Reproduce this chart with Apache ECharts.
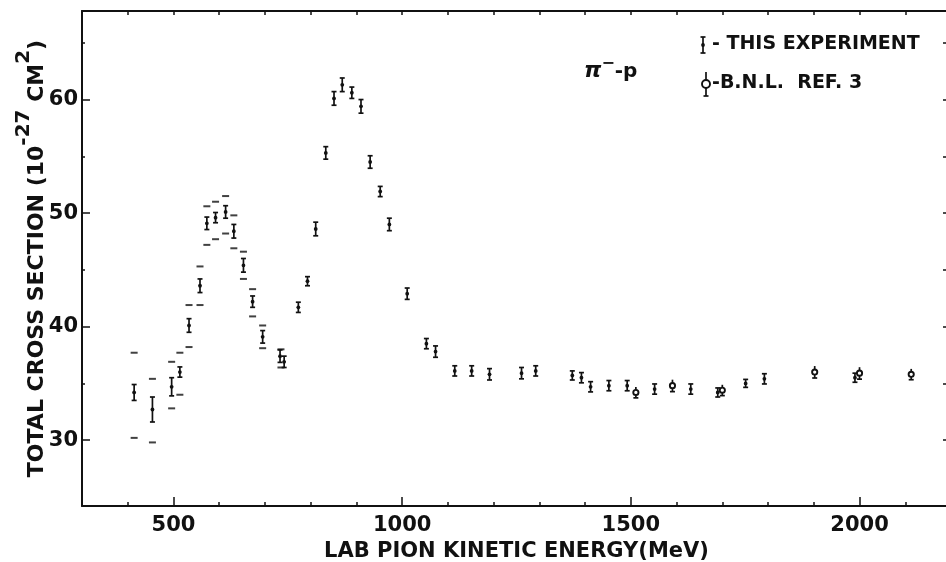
<!DOCTYPE html>
<html>
<head>
<meta charset="utf-8">
<title>pi- p total cross section</title>
<script src="https://cdn.jsdelivr.net/npm/echarts@6/dist/echarts.min.js"></script>
<style>
  html, body { margin: 0; padding: 0; background: #fff; }
  #main { width: 946px; height: 562px; }
</style>
</head>
<body>
<div id="main"></div>
<script>
// this experiment: energy (MeV), cross section (mb), half error
var expEnergy = [414, 454, 496, 514, 534, 558, 573, 592, 614, 632, 653, 673, 695, 733, 742,
  773, 793, 811, 833, 851, 869, 890, 910, 930, 952, 972, 1011, 1053, 1073, 1115, 1152, 1191,
  1261, 1292, 1372, 1392, 1412, 1452, 1492, 1552, 1631, 1690, 1751, 1792, 1990];
var expSigma = [34.2, 32.7, 34.7, 36.0, 40.1, 43.6, 49.1, 49.6, 50.1, 48.4, 45.4, 42.2, 39.1, 37.4, 36.9,
  41.7, 44.0, 48.6, 55.3, 60.1, 61.3, 60.6, 59.4, 54.5, 51.9, 49.0, 42.9, 38.5, 37.8, 36.1, 36.1, 35.8,
  35.9, 36.1, 35.7, 35.5, 34.7, 34.8, 34.8, 34.5, 34.5, 34.2, 35.0, 35.4, 35.5];
var expErr = [0.7, 1.1, 0.8, 0.45, 0.6, 0.6, 0.55, 0.45, 0.55, 0.6, 0.6, 0.5, 0.55, 0.55, 0.5,
  0.45, 0.4, 0.6, 0.55, 0.6, 0.6, 0.5, 0.6, 0.55, 0.45, 0.55, 0.5, 0.45, 0.5, 0.45, 0.45, 0.5,
  0.5, 0.45, 0.4, 0.45, 0.45, 0.45, 0.45, 0.45, 0.45, 0.4, 0.35, 0.45, 0.4];

// B.N.L. ref 3
var bnlEnergy = [1511, 1591, 1700, 1902, 2000, 2113];
var bnlSigma = [34.2, 34.8, 34.4, 36.0, 35.9, 35.8];
var bnlErr = [0.3, 0.35, 0.3, 0.35, 0.35, 0.3];

// dashes above / below the low energy points
var dashEnergy = [414, 454, 496, 514, 534, 558, 573, 592, 614, 632, 653, 673, 695, 735];
var dashHigh = [37.7, 35.4, 36.9, 37.7, 41.9, 45.3, 50.6, 51.0, 51.5, 49.8, 46.6, 43.3, 40.1, 38.0];
var dashLow = [30.2, 29.8, 32.8, 34.0, 38.2, 41.9, 47.2, 47.7, 48.2, 46.9, 44.2, 40.9, 38.1, 36.4];

var xMajorTicks = [500, 1000, 1500, 2000];
var xMinorTicks = [400, 500, 600, 700, 800, 900, 1000, 1100, 1200, 1300, 1400, 1500, 1600, 1700, 1800, 1900, 2000, 2100];
var yMajorTicks = [30, 40, 50, 60];
var yMinorTicks = [30, 35, 40, 45, 50, 55, 60, 65];

var ink = '#111';
var font = 'DejaVu Sans, sans-serif';

var expData = [], bnlData = [], hiData = [], loData = [];
for (var i = 0; i < expEnergy.length; i++) expData.push([expEnergy[i], expSigma[i], expErr[i]]);
for (var i = 0; i < bnlEnergy.length; i++) bnlData.push([bnlEnergy[i], bnlSigma[i], bnlErr[i]]);
for (var i = 0; i < dashEnergy.length; i++) {
  hiData.push([dashEnergy[i], dashHigh[i]]);
  loData.push([dashEnergy[i], dashLow[i]]);
}

function renderExp(params, api) {
  var x = api.value(0), y = api.value(1), e = api.value(2);
  var t = api.coord([x, y + e]), b = api.coord([x, y - e]), m = api.coord([x, y]);
  var s = { stroke: ink, lineWidth: 1.7 };
  return { type: 'group', children: [
    { type: 'line', shape: { x1: t[0], y1: t[1], x2: b[0], y2: b[1] }, style: s },
    { type: 'line', shape: { x1: t[0] - 2.5, y1: t[1], x2: t[0] + 2.5, y2: t[1] }, style: s },
    { type: 'line', shape: { x1: b[0] - 2.5, y1: b[1], x2: b[0] + 2.5, y2: b[1] }, style: s },
    { type: 'circle', shape: { cx: m[0], cy: m[1], r: 1.9 }, style: { fill: ink } }
  ]};
}

function renderBnl(params, api) {
  var x = api.value(0), y = api.value(1), e = api.value(2);
  var t = api.coord([x, y + e]), b = api.coord([x, y - e]), m = api.coord([x, y]);
  var s = { stroke: ink, lineWidth: 1.7 };
  return { type: 'group', children: [
    { type: 'line', shape: { x1: t[0], y1: t[1] - 2, x2: b[0], y2: b[1] + 2 }, style: s },
    { type: 'line', shape: { x1: b[0] - 2.5, y1: b[1] + 2, x2: b[0] + 2.5, y2: b[1] + 2 }, style: s },
    { type: 'circle', shape: { cx: m[0], cy: m[1], r: 2.6 }, style: { fill: '#fff', stroke: ink, lineWidth: 1.9 } }
  ]};
}

function plainNum(v) { return String(v); }

var myChart = echarts.init(document.getElementById('main'));

var option = {
  animation: false,
  backgroundColor: '#fff',
  grid: { left: 82, right: -5, top: 11, bottom: 56, outerBoundsMode: 'none' },
  xAxis: [
    {
      type: 'value', position: 'bottom', min: 300, max: 2200,
      axisLine: { lineStyle: { color: ink, width: 2 } },
      axisTick: { inside: true, length: 4, customValues: xMinorTicks, lineStyle: { color: ink, width: 1.5 } },
      axisLabel: { customValues: xMajorTicks, formatter: plainNum, color: ink, fontFamily: font, fontWeight: 'bold', fontSize: 21, margin: 9 },
      splitLine: { show: false },
      name: 'LAB PION KINETIC ENERGY(MeV)', nameLocation: 'middle', nameGap: 35,
      nameTextStyle: { color: ink, fontFamily: font, fontWeight: 'bold', fontSize: 21 }
    },
    {
      type: 'value', position: 'bottom', min: 300, max: 2200,
      axisLine: { show: false },
      axisTick: { inside: true, length: 9, customValues: xMajorTicks, lineStyle: { color: ink, width: 1.5 } },
      axisLabel: { show: false }, splitLine: { show: false }
    },
    {
      type: 'value', position: 'top', min: 300, max: 2200,
      axisLine: { lineStyle: { color: ink, width: 2 } },
      axisTick: { inside: true, length: 4, customValues: xMinorTicks, lineStyle: { color: ink, width: 1.5 } },
      axisLabel: { show: false }, splitLine: { show: false }
    }
  ],
  yAxis: [
    {
      type: 'value', position: 'left', min: 24.2, max: 67.8,
      axisLine: { lineStyle: { color: ink, width: 2 } },
      axisTick: { inside: true, length: 3, customValues: yMinorTicks, lineStyle: { color: ink, width: 1.5 } },
      axisLabel: { customValues: yMajorTicks, formatter: plainNum, color: ink, fontFamily: font, fontWeight: 'bold', fontSize: 21, margin: 4 },
      splitLine: { show: false },
      name: '{t|TOTAL CROSS SECTION (10}{s|-27}{t| CM}{s|2}{t|)}',
      nameLocation: 'middle', nameGap: 34, nameRotate: 90, nameMoveOverlap: false,
      nameTextStyle: {
        color: ink,
        rich: {
          t: { fontFamily: font, fontWeight: 'bold', fontSize: 22, color: ink, lineHeight: 34, verticalAlign: 'bottom' },
          s: { fontFamily: font, fontWeight: 'bold', fontSize: 20, color: ink, lineHeight: 34, verticalAlign: 'top' }
        }
      }
    },
    {
      type: 'value', position: 'left', min: 24.2, max: 67.8,
      axisLine: { show: false },
      axisTick: { inside: true, length: 8, customValues: yMajorTicks, lineStyle: { color: ink, width: 1.5 } },
      axisLabel: { show: false }, splitLine: { show: false }
    },
    {
      type: 'value', position: 'right', min: 24.2, max: 67.8,
      axisLine: { lineStyle: { color: ink, width: 2 } },
      axisTick: { inside: true, length: 8, customValues: yMinorTicks, lineStyle: { color: ink, width: 1.5 } },
      axisLabel: { show: false }, splitLine: { show: false }
    }
  ],
  series: [
    {
      name: 'dash high', type: 'scatter', data: hiData, symbol: 'rect', symbolSize: [7, 2],
      itemStyle: { color: ink }, silent: true
    },
    {
      name: 'dash low', type: 'scatter', data: loData, symbol: 'rect', symbolSize: [7, 2],
      itemStyle: { color: ink }, silent: true
    },
    { name: 'THIS EXPERIMENT', type: 'custom', renderItem: renderExp, data: expData, z: 3 },
    { name: 'B.N.L. REF. 3', type: 'custom', renderItem: renderBnl, data: bnlData, z: 4 }
  ],
  graphic: [
    {
      type: 'text', left: 584, top: 56,
      style: {
        text: '{p|π}{m|−}{q|-p}',
        rich: {
          p: { fontFamily: font, fontWeight: 'bold', fontStyle: 'italic', fontSize: 22, fill: ink, verticalAlign: 'bottom', lineHeight: 26 },
          m: { fontFamily: font, fontWeight: 'bold', fontSize: 16, fill: ink, verticalAlign: 'top', lineHeight: 26 },
          q: { fontFamily: font, fontWeight: 'bold', fontSize: 20, fill: ink, verticalAlign: 'bottom', lineHeight: 26 }
        }
      }
    },
    // legend: this experiment
    { type: 'line', shape: { x1: 703, y1: 37, x2: 703, y2: 53 }, style: { stroke: ink, lineWidth: 1.7 } },
    { type: 'line', shape: { x1: 700.5, y1: 37, x2: 705.5, y2: 37 }, style: { stroke: ink, lineWidth: 1.7 } },
    { type: 'line', shape: { x1: 700.5, y1: 53, x2: 705.5, y2: 53 }, style: { stroke: ink, lineWidth: 1.7 } },
    { type: 'circle', shape: { cx: 703, cy: 45, r: 1.9 }, style: { fill: ink } },
    {
      type: 'text', left: 712, top: 35,
      style: { text: '- THIS EXPERIMENT', fontFamily: font, fontWeight: 'bold', fontSize: 19, fill: ink }
    },
    // legend: BNL
    { type: 'line', shape: { x1: 706, y1: 72, x2: 706, y2: 96 }, style: { stroke: ink, lineWidth: 1.7 } },
    { type: 'line', shape: { x1: 703.5, y1: 96, x2: 708.5, y2: 96 }, style: { stroke: ink, lineWidth: 1.7 } },
    { type: 'circle', shape: { cx: 706, cy: 84, r: 4 }, style: { fill: '#fff', stroke: ink, lineWidth: 1.9 } },
    {
      type: 'text', left: 712, top: 74,
      style: { text: '-B.N.L.  REF. 3', fontFamily: font, fontWeight: 'bold', fontSize: 19, fill: ink }
    }
  ]
};

myChart.setOption(option);
</script>
</body>
</html>
